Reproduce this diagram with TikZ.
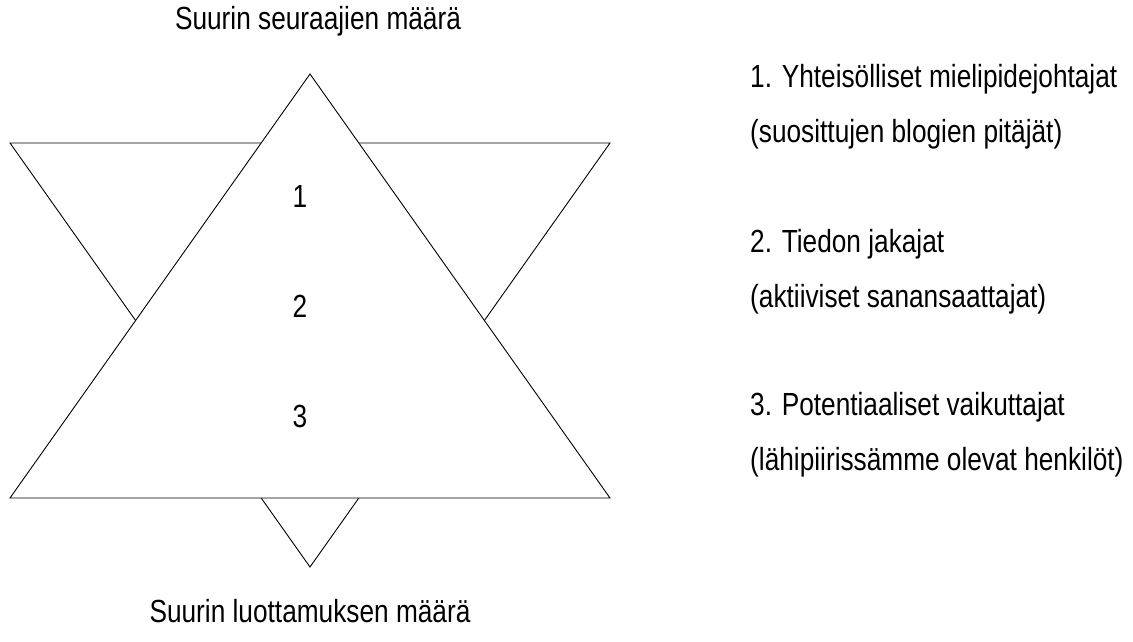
\documentclass[tikz,border=0pt]{standalone}
\usepackage{fontspec}
\setmainfont{Liberation Sans}[FakeStretch=0.82]
\begin{document}
\begin{tikzpicture}[x=1pt,y=-1pt,
  outline/.style={draw=black,line width=0.9pt,line join=miter},
  txt/.style={inner sep=0pt,font=\fontsize{32}{38}\selectfont},
  lbl/.style={txt,anchor=base},
  item/.style={txt,anchor=base west}]
\useasboundingbox (0,0) rectangle (1133,642);
% down-pointing triangle
\coordinate (dl) at (10,143);
\coordinate (dr) at (610,143);
\coordinate (da) at (310,567);
% up-pointing triangle
\coordinate (ua) at (310,74);
\coordinate (ul) at (10,498);
\coordinate (ur) at (610,498);
\draw[outline] (dl) -- (dr) -- (da) -- cycle;
\filldraw[outline,fill=white] (ua) -- (ur) -- (ul) -- cycle;
% labels
\node[lbl] (top) at (318,30) {Suurin seuraajien määrä};
\node[lbl] (bot) at (310,622) {Suurin luottamuksen määrä};
\node[lbl] (n1) at (300,207) {1};
\node[lbl] (n2) at (300,317) {2};
\node[lbl] (n3) at (300,427) {3};
\node[item] (t1) at (750,88) {1. Yhteisölliset mielipidejohtajat};
\node[item] (t1b) at (750,142) {(suosittujen blogien pitäjät)};
\node[item] (t2) at (750,252) {2. Tiedon jakajat};
\node[item] (t2b) at (750,307) {(aktiiviset sanansaattajat)};
\node[item] (t3) at (750,415) {3. Potentiaaliset vaikuttajat};
\node[item] (t3b) at (750,470) {(lähipiirissämme olevat henkilöt)};
\end{tikzpicture}
\end{document}
